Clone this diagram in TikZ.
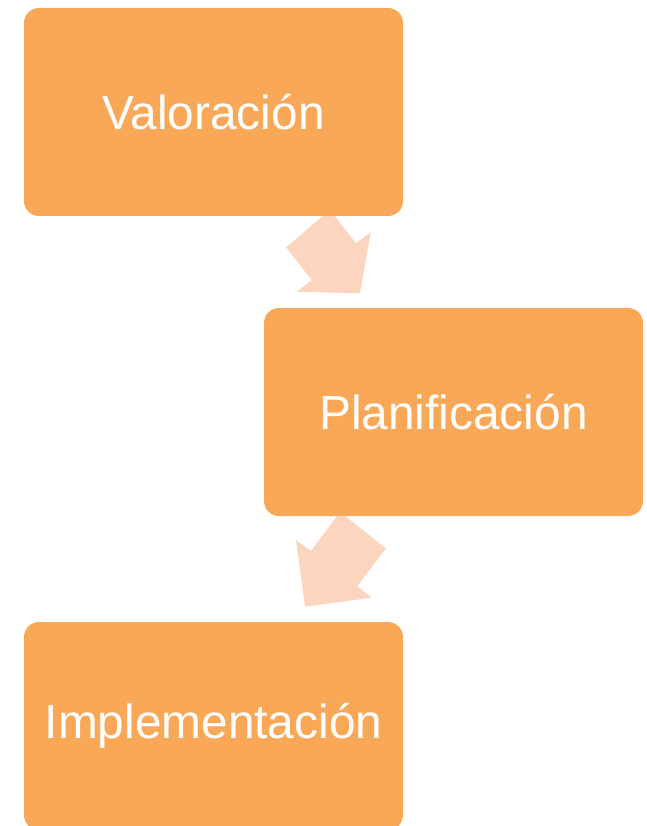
\documentclass[tikz,border=0pt]{standalone}
\usepackage{fontspec}
\setmainfont{Liberation Sans}
\definecolor{boxorange}{HTML}{F9A857}
\definecolor{arrowpeach}{HTML}{FCD5C1}
\begin{document}
\begin{tikzpicture}[x=1pt,y=-1pt,
  stepbox/.style={draw=none,fill=boxorange,rounded corners=15pt,minimum width=379pt,minimum height=208pt,inner sep=0pt,text=white,font=\fontsize{47.8}{56}\selectfont},
  blockarrow/.style={fill=arrowpeach,draw=none}]
\useasboundingbox (0,0) rectangle (646,826);
% arrows (drawn behind boxes)
\fill[blockarrow] (330,210) -- (286,247.3) -- (311.7,280) -- (296.7,291.7) -- (360,293.3) -- (370.7,232.3) -- (356,243.3) -- cycle;
\fill[blockarrow] (340,512) -- (386,548.3) -- (357.3,586) -- (371.7,597.7) -- (305,606.7) -- (296,540) -- (311,551) -- cycle;
\node[stepbox] (a) at (213.5,112) {Valoración};
\node[stepbox] (b) at (453.5,412) {Planificación};
\node[stepbox] (c) at (213.5,726) {Implementación};
\end{tikzpicture}
\end{document}
